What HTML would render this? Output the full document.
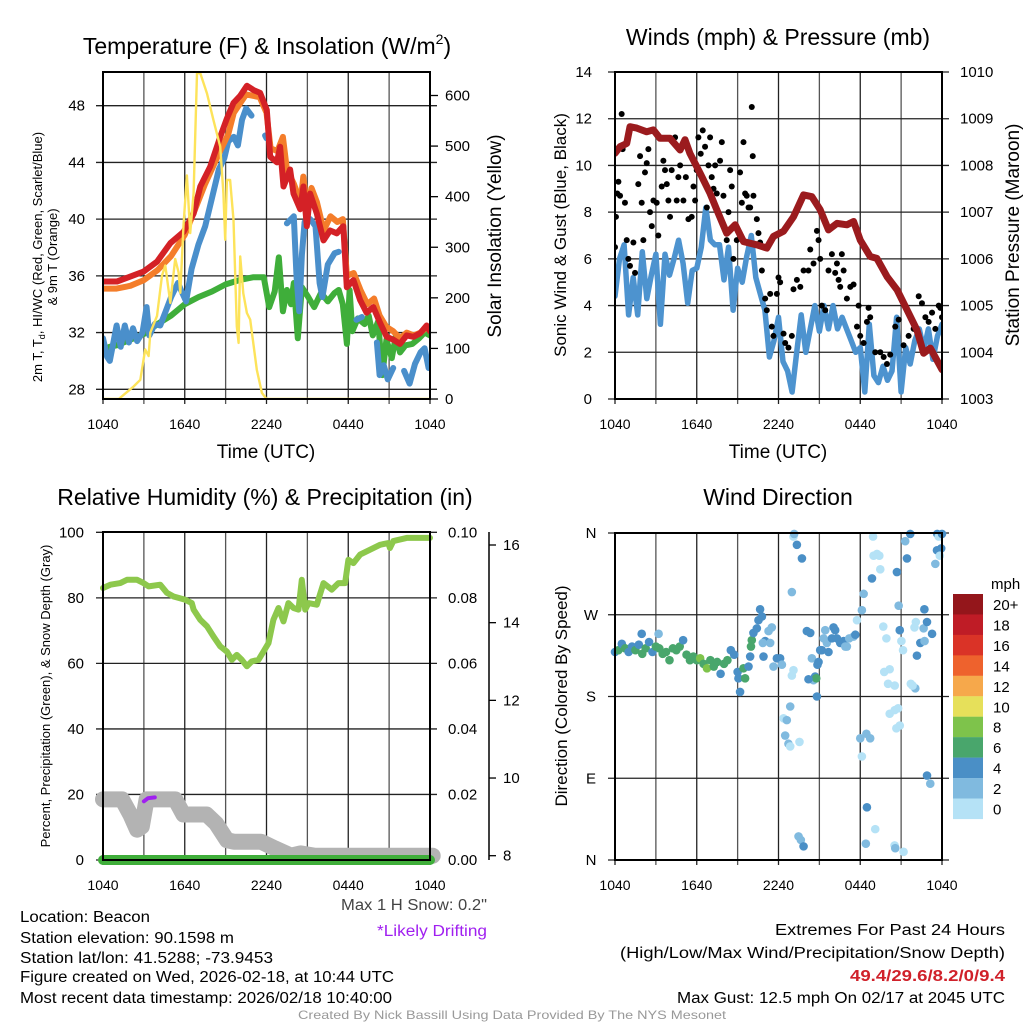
<!DOCTYPE html>
<html><head><meta charset="utf-8">
<style>
html,body{margin:0;padding:0;background:#fff;}
svg{display:block;font-family:"Liberation Sans",Arial,sans-serif;}
</style></head>
<body>
<svg id="c" width="1024" height="1024" viewBox="0 0 1024 1024" xmlns="http://www.w3.org/2000/svg">
<defs>
<clipPath id="cp1"><rect x="103" y="72" width="327" height="327"/></clipPath>
<clipPath id="cp2"><rect x="615" y="72" width="327" height="327"/></clipPath>
</defs>
<rect width="1024" height="1024" fill="#fff"/>
<g id="g1"></g>
<g id="g2"></g>
<g id="g3"></g>
<g id="g4"></g>

<text x="267" y="54" font-size="23" text-anchor="middle">Temperature (F) &amp; Insolation (W/m<tspan font-size="14" dy="-10">2</tspan><tspan dy="10">)</tspan></text>
<text x="778" y="45" font-size="23" text-anchor="middle">Winds (mph) &amp; Pressure (mb)</text>
<text x="265" y="505" font-size="23" text-anchor="middle">Relative Humidity (%) &amp; Precipitation (in)</text>
<text x="778" y="505" font-size="23" text-anchor="middle">Wind Direction</text>

<text x="266" y="458" font-size="19" text-anchor="middle">Time (UTC)</text>
<text x="778" y="458" font-size="19" text-anchor="middle">Time (UTC)</text>

<text transform="translate(42,257) rotate(-90)" font-size="13" text-anchor="middle">2m T, T<tspan font-size="9" dy="3">d</tspan><tspan dy="-3">, HI/WC (Red, Green, Scarlet/Blue)</tspan></text>
<text transform="translate(57,257) rotate(-90)" font-size="13" text-anchor="middle">&amp; 9m T (Orange)</text>
<text transform="translate(501,236) rotate(-90)" font-size="19" text-anchor="middle">Solar Insolation (Yellow)</text>
<text transform="translate(566,235) rotate(-90)" font-size="17" text-anchor="middle">Sonic Wind &amp; Gust (Blue, Black)</text>
<text transform="translate(1019,235) rotate(-90)" font-size="19" text-anchor="middle">Station Pressure (Maroon)</text>
<text transform="translate(50,696) rotate(-90)" font-size="13" text-anchor="middle">Percent, Precipitation (Green), &amp; Snow Depth (Gray)</text>
<text transform="translate(567,696) rotate(-90)" font-size="17" text-anchor="middle">Direction (Colored By Speed)</text>

<g font-size="15.5">
<text x="20" y="922" textLength="130" lengthAdjust="spacingAndGlyphs">Location: Beacon</text>
<text x="20" y="943" textLength="214" lengthAdjust="spacingAndGlyphs">Station elevation: 90.1598 m</text>
<text x="20" y="963" textLength="253" lengthAdjust="spacingAndGlyphs">Station lat/lon: 41.5288; -73.9453</text>
<text x="20" y="982" textLength="374" lengthAdjust="spacingAndGlyphs">Figure created on Wed, 2026-02-18, at 10:44 UTC</text>
<text x="20" y="1003" textLength="372" lengthAdjust="spacingAndGlyphs">Most recent data timestamp: 2026/02/18 10:40:00</text>
</g>
<text x="487" y="910" font-size="15.5" fill="#444" text-anchor="end" textLength="146" lengthAdjust="spacingAndGlyphs">Max 1 H Snow: 0.2"</text>
<text x="487" y="936" font-size="15.5" fill="#a020f0" text-anchor="end" textLength="110" lengthAdjust="spacingAndGlyphs">*Likely Drifting</text>
<text x="1005" y="935" font-size="15.5" text-anchor="end" textLength="230" lengthAdjust="spacingAndGlyphs">Extremes For Past 24 Hours</text>
<text x="1005" y="958" font-size="15.5" text-anchor="end" textLength="385" lengthAdjust="spacingAndGlyphs">(High/Low/Max Wind/Precipitation/Snow Depth)</text>
<text x="1005" y="981" font-size="15.5" font-weight="bold" fill="#d0212a" text-anchor="end" textLength="155" lengthAdjust="spacingAndGlyphs">49.4/29.6/8.2/0/9.4</text>
<text x="1005" y="1003" font-size="15.5" text-anchor="end" textLength="328" lengthAdjust="spacingAndGlyphs">Max Gust: 12.5 mph On 02/17 at 2045 UTC</text>
<text x="512" y="1019" font-size="12" fill="#999" text-anchor="middle" textLength="428" lengthAdjust="spacingAndGlyphs">Created By Nick Bassill Using Data Provided By The NYS Mesonet</text>

<g id="legend">
<text x="991" y="589" font-size="15">mph</text>
</g>
</svg>
<script>
// ---------- DATA ----------
const xTickLabels = ["1040","1640","2240","0440","1040"];
const redT   = [0,1.03,2,2.98,3.96,4.94,5.91,6.65,7.14,7.87,8.6,9.09,9.58,10.07,10.56,11.05,11.53,12.02,12.27,12.76,13,13.25,13.73,13.98,14.47,14.71,14.96,15.2,15.69,16.18,16.67,17.16,17.64,17.89,18.38,18.87,19.35,19.84,20.33,20.82,21.31,21.8,22.29,22.78,23.27,23.75,24];
const redV   = [35.6,35.6,35.95,36.3,37.0,38.3,39.1,40.4,42.3,43.7,45.8,47.1,48.2,48.7,49.4,49.1,48.9,47.7,44.4,44.0,45.1,42.3,43.5,41.8,40.7,42.3,39.5,41.8,40.4,38.5,39.2,39.0,39.5,35.2,35.7,34.3,33.4,33.8,32.7,31.7,31.5,31.2,31.8,31.7,31.95,32.5,32.1];
const orangeT = [0,1,2,3,4,5,6,6.6,7.5,8.5,9.2,9.6,10.5,11.5,12,12.3,12.8,13.2,13.5,14,14.5,14.7,15,15.3,15.7,16.2,16.7,17.2,17.6,17.9,18.4,18.9,19.4,19.9,20.3,20.8,21.3,21.8,22.3,22.8,23.3,23.8,24];
const orangeV = [35.1,35.1,35.3,35.7,36.4,37.4,38.9,40.3,42.5,44.6,46.0,47.5,48.8,48.6,47.5,45.0,44.8,45.8,43.5,42.5,41.2,43.0,40.5,42.2,41.2,39.2,40.2,39.8,40.0,36.0,36.2,35.0,34.0,34.4,33.2,32.4,32.1,31.6,32.0,31.8,32.0,32.4,32.2];
const blueT = [0,0.3,0.5,0.8,1.0,1.3,1.6,1.9,2.2,2.5,2.9,3.2,3.4,3.8,4.2,4.6,5.0,5.5,6.1,6.5,7.0,7.5,8.0,8.5,8.9,9.2,9.6,9.9,10.2,10.5,10.9,null,11.9,12.0,null,13.5,14.0,14.2,14.4,14.6,14.8,15.2,15.6,15.9,16.1,16.5,17.0,17.3,null,18.6,19.0,null,20.1,20.3,20.6,20.9,21.3,null,22.1,22.5,22.9,23.3,23.6,23.9,24];
const blueV = [31.6,30.3,30.0,31.5,32.5,31.0,32.5,31.3,32.3,31.4,32.0,33.8,31.8,32.6,32.5,33.5,34.5,35.5,34.2,36.5,38.2,39.5,41.5,43.5,44.3,45.5,45.8,45.2,47.0,47.8,47.3,null,45.9,45.7,null,39.7,40.2,36.0,33.5,37.5,39.8,40.0,39.5,35.5,34.5,36.8,37.6,37.7,null,32.9,33.1,null,31.3,29.0,29.7,28.7,29.5,null,29.3,28.4,29.8,30.6,30.9,29.5,29.6];
const greenT = [0,0.5,1,2,3,4,5,6,7,8,9,10,11,11.8,12.2,12.6,12.9,13.2,13.5,13.8,14.0,14.3,14.6,15.0,15.5,16,16.5,17,17.3,17.6,17.9,18.1,18.3,18.7,19.2,19.5,19.8,20.2,20.5,20.8,21.2,21.5,21.8,22.2,22.7,23.2,23.6,24];
const greenV = [30.8,31.0,31.1,31.5,31.9,32.6,33.2,34.0,34.5,34.9,35.4,35.7,35.9,35.9,33.8,34.9,37.3,33.5,35.0,34.0,35.5,31.6,35.2,34.6,33.8,34.8,34.2,34.8,35.0,34.0,31.2,35.0,32.1,33.0,32.6,33.2,31.8,32.8,29.0,31.5,30.2,31.8,30.6,31.1,31.2,31.6,32.0,31.8];
const solarT = [0,1.15,2.25,2.74,3.1,3.35,3.47,3.96,4.33,4.57,4.94,5.3,5.55,5.67,5.91,6.16,6.4,6.65,6.9,7.14,7.63,8.11,8.6,8.84,8.97,9.09,9.33,9.58,9.82,9.95,10.07,10.3,10.56,10.8,11.29,11.66,12.0,24];
const solarV = [0,0,25,38,98,85,131,164,244,264,190,277,250,210,343,442,328,407,644,644,604,551,499,407,315,433,433,354,144,111,282,209,170,157,58,12,0,0];
const pressT = [0,0.37,0.86,1.1,1.6,2.33,2.82,3.3,4.04,4.78,5.14,5.5,6.25,6.98,7.47,8.2,8.82,9.43,10.4,11.14,11.63,12.37,13.1,13.84,14.45,15.06,15.67,16.29,17.02,17.51,18.0,18.73,19.22,19.96,20.7,21.43,22.16,22.65,23.14,24];
const pressV = [1008.26,1008.4,1008.47,1008.83,1008.8,1008.72,1008.76,1008.58,1008.58,1008.33,1008.55,1008.26,1007.83,1007.4,1007.05,1006.55,1006.73,1006.37,1006.3,1006.23,1006.48,1006.59,1006.9,1007.37,1007.33,1007.05,1006.62,1006.76,1006.73,1006.8,1006.4,1006.05,1006.01,1005.62,1005.34,1004.91,1004.48,1003.98,1004.09,1003.63];
const windV = [4.4,6.0,6.6,3.6,5.2,3.6,6.3,4.3,5.3,6.2,3.2,6.2,5.3,6.0,6.8,5.8,4.1,5.5,5.6,6.5,8.2,6.8,6.6,6.6,5.1,6.5,3.8,5.6,5.0,6.1,7.0,5.2,4.5,3.8,1.8,2.5,3.5,1.6,1.2,0.3,2.0,3.6,2.0,3.0,4.0,2.9,4.0,3.0,4.0,3.0,3.5,3.0,2.5,2.0,2.2,0.3,3.2,1.0,0.7,1.4,0.8,1.2,3.5,0.3,2.2,1.5,2.5,3.0,2.1,3.0,1.7,2.7,3.2];
const gustT = [0,0.07,0.17,0.25,0.37,0.49,0.56,0.73,0.86,0.98,1.1,1.35,1.47,1.71,1.84,1.96,2.08,2.2,2.33,2.45,2.57,2.7,2.82,3.06,3.18,3.43,3.55,3.67,3.8,3.92,4.04,4.16,4.41,4.53,4.65,4.78,5.02,5.2,5.39,5.63,5.76,5.88,6.0,6.12,6.29,6.44,6.61,6.74,6.86,6.98,7.1,7.23,7.35,7.47,7.71,7.84,7.96,8.2,8.33,8.45,8.57,8.69,8.94,9.18,9.31,9.43,9.55,9.67,9.8,9.92,10.04,10.11,10.16,10.41,10.53,10.65,10.78,11.02,11.14,11.39,11.51,11.63,11.88,12.0,12.12,12.37,12.49,12.73,12.98,13.1,13.35,13.6,13.84,14.2,14.33,14.57,14.82,14.94,15.06,15.18,15.43,15.67,15.92,16.16,16.29,16.41,16.53,16.65,16.78,17.02,17.27,17.51,17.76,17.88,18.0,18.25,18.49,18.61,18.73,19.1,19.47,19.72,19.96,20.2,20.57,20.82,21.18,21.55,21.92,22.29,22.53,22.78,23.02,23.27,23.51,23.76,23.88,24.0];
const gustV = [6.5,7.8,8.8,9.3,8.7,12.2,10.7,8.4,6.8,6.0,5.7,6.7,5.4,9.2,10.4,8.4,6.8,9.7,10.1,10.7,8.0,7.4,8.5,8.4,7.0,9.1,10.2,9.8,9.2,8.5,7.8,9.8,11.2,8.5,9.5,10.0,8.5,9.5,7.7,7.8,9.1,8.5,9.8,11.2,10.5,11.5,10.8,8.2,10.0,11.2,9.5,9.0,10.0,8.8,10.2,11.0,8.7,6.8,8.0,9.8,9.1,6.0,6.8,9.7,8.4,11.0,8.8,8.7,8.2,8.2,12.5,10.4,8.7,7.7,7.1,6.7,5.5,4.3,3.8,4.5,3.1,2.7,4.5,5.2,5.0,2.8,2.4,2.2,2.7,4.7,5.1,4.8,5.5,5.5,6.4,5.8,7.2,6.8,6.0,4.0,3.8,5.5,6.2,5.4,5.8,5.1,4.8,6.2,5.5,4.3,4.8,4.9,3.1,4.0,2.7,2.4,3.3,3.9,3.5,2.0,2.0,1.8,1.5,1.9,3.1,3.4,2.3,2.7,3.0,4.4,4.1,3.5,3.3,3.7,3.0,4.0,3.9,3.5];
const rhT = [0,0.54,1.27,1.76,2.5,2.98,3.35,4.2,4.7,5.18,6.04,6.52,6.65,7.14,7.63,8.11,8.6,9.09,9.46,9.82,10.19,10.56,10.92,11.41,11.78,12.15,12.51,12.88,13.25,13.61,13.98,14.35,14.59,14.84,15.08,15.69,16.18,16.79,17.28,17.77,18.01,18.38,18.87,19.6,20.33,20.94,21.06,21.31,22.29,23.75,24];
const rhV = [83,84,84.5,85.5,85.5,84.5,83.5,84,81.5,80.4,79.4,78.4,76.4,73.3,71.3,68.2,65.2,63.6,61.1,62.6,61.1,59.1,60.6,61.1,63.6,66.2,73.3,76.9,72.8,78.4,76.9,76.4,85.5,76.4,78.4,77.9,84.5,82.5,84.5,84.5,91.6,90.6,93.2,94.7,96.2,96.7,95.2,97.3,98.3,98.3,98.3];
const snowT = [0,1.4,2.0,2.5,2.85,3.2,5.3,5.9,6.4,7.6,8.3,9.1,9.6,11.6,12.6,13.8,14.5,15.5,24.2];
const snowV = [9.45,9.45,9.06,8.67,8.75,9.45,9.45,9.06,9.06,9.06,8.83,8.4,8.36,8.36,8.19,8.0,8.06,8.0,8.0];
const precipT = [0,24];
const precipV = [0,0];
const driftT = [3.0,3.3,3.8];
const driftV = [9.4,9.48,9.5];
const dirT = [0,0.25,0.5,0.75,1,1.25,1.5,1.75,2,2.25,2.5,2.75,3,3.25,3.5,3.75,4,4.25,4.5,4.75,5,5.25,5.5,5.75,6,6.25,6.5,6.75,7,7.25,7.5,7.75,8,8.25,8.5,8.75,1.96,3.2,
9.0,9.06,9.18,9.43,9.55,9.8,9.92,10.04,9.98,10.16,10.41,10.53,10.65,10.78,11.02,11.27,11.39,11.51,10.85,10.9,11.63,11.88,12.12,12.25,13.1,12.98,13.1,13.35,13.15,13.72,12.98,12.86,12.37,12.61,12.49,12.73,12.86,13.54,13.47,13.64,
13.84,14.08,14.33,14.45,14.57,14.69,14.77,14.2,14.82,14.86,14.94,15.06,15.18,15.31,15.43,15.55,15.67,15.92,16.04,16.16,16.29,16.53,16.78,16.9,17.02,17.19,17.51,17.64,17.76,18.12,18.25,18.86,18.98,19.23,18.94,19.4,19.47,19.69,19.92,20.04,19.76,20.16,20.53,20.16,20.53,20.78,20.65,20.9,18.0,18.12,18.49,18.45,18.73,19.1,18.41,20.52,20.57,21.18,21.3,21.43,21.67,20.69,20.82,20.9,21.02,21.14,21.71,22.04,21.84,22.16,22.41,22.65,22.72,21.98,22.08,22.69,22.9,23.14,23.51,23.65,23.94,23.63,23.76,23.84,24.0,22.71,22.9,23.27];
const dirV = [229,231,238,233,229,235,231,237,227,233,240,229,235,233,227,229,220,233,231,235,242,226,220,224,220,222,216,211,220,213,218,205,216,220,231,226,249,249,
207,200,185,211,200,213,224,242,235,250,255,264,276,268,241,252,239,256,239,224,213,222,222,215,209,203,356,347,359,332,295,169,156,154,137,128,125,130,26,22,15,
252,250,222,198,202,200,199,180,215,218,231,231,244,253,239,229,244,256,253,244,239,241,235,235,244,246,248,264,275,293,310,335,337,356,335,320,257,244,194,207,210,192,161,165,167,145,148,134,114,58,139,134,34,18,16,13,9,351,332,359,317,280,253,241,231,194,189,192,225,239,255,241,256,262,276,93,84,326,359,343,341,356,335,359,276,262,249,11,4,13];
const dirS = [5,7,5,7,5,5,7,5,7,7,5,5,7,7,7,7,7,7,7,7,5,7,7,7,7,9,7,9,7,7,7,5,7,7,5,5,5,3,
5,5,5,7,7,5,5,7,7,5,5,5,5,5,5,3,3,3,3,5,3,5,5,3,1,1,1,5,3,5,3,3,1,3,3,3,1,1,3,3,
5,5,5,3,3,5,7,5,5,5,5,5,5,3,3,3,5,5,5,5,5,5,5,3,3,3,3,5,1,3,3,5,1,1,1,1,1,1,1,1,1,1,1,1,1,1,1,1,3,1,5,3,3,1,3,1,3,1,3,5,5,5,3,5,1,1,1,3,1,5,5,3,3,1,1,1,5,3,3,5,5,5,1,1,5,5,5,5];
const legendLabels = ["20+","18","16","14","12","10","8","6","4","2","0"];
const legendColors = ["#94161b","#bf1c26","#da3327","#ee622d","#f6a84b","#e6e05a","#7ec34b","#49a66c","#4a8fc6","#80badf","#b5e2f6"];
const tempTicks = [28,32,36,40,44,48];
const solarTicks = [0,100,200,300,400,500,600];
const windTicks = [0,2,4,6,8,10,12,14];
const pressTicks = [1003,1004,1005,1006,1007,1008,1009,1010];
const rhTicks = [0,20,40,60,80,100];
const precipTicks = ["0.00","0.02","0.04","0.06","0.08","0.10"];
const snowTicks = [8,10,12,14,16];
const dirTicks = ["N","E","S","W","N"];

// ---------- HELPERS ----------
const NS="http://www.w3.org/2000/svg";
function mk(parent,tag,attrs){const e=document.createElementNS(NS,tag);for(const k in attrs)e.setAttribute(k,attrs[k]);parent.appendChild(e);return e;}
function lin(d0,d1,r0,r1){return v=>r0+(v-d0)*(r1-r0)/(d1-d0);}
function pathFrom(T,V,xs,ys){let d="",pen=false;for(let i=0;i<T.length;i++){if(T[i]===null||V[i]===null){pen=false;continue;}d+=(pen?"L":"M")+xs(T[i]).toFixed(1)+","+ys(V[i]).toFixed(1);pen=true;}return d;}
function frame(g,L,R,Tp,B){
  const xs=lin(0,24,L,R);
  for(let h=0;h<=24;h+=3){
    const gl=mk(g,"line",{x1:xs(h),x2:xs(h),y1:Tp,y2:B+5,stroke:(h%6==0)?"#222":"#555","stroke-width":1.3});
    
    
  }
  xTickLabels.forEach((s,i)=>{
    const t=mk(g,"text",{x:xs(i*6),y:B+30,"font-size":14,"text-anchor":"middle"});t.textContent=s;
    
    
  });
  return xs;
}
function hgrid(g,L,R,y){const l=mk(g,"line",{x1:L-7,x2:R+7,y1:y,y2:y,stroke:"#222","stroke-width":1.3});
  
  }
function lbl(g,x,y,s,anchor,size){const t=mk(g,"text",{x:x,y:y+5,"font-size":size||14,"text-anchor":anchor});t.textContent=s;
  
  return t;}
function border(g,L,R,Tp,B){const r=mk(g,"rect",{x:L,y:Tp,width:R-L,height:B-Tp,fill:"none",stroke:"#000","stroke-width":2});
  
  }
function line(g,T,V,xs,ys,color,w,name){const p=mk(g,"path",{d:pathFrom(T,V,xs,ys),fill:"none",stroke:color,"stroke-width":w,"stroke-linejoin":"round","stroke-linecap":"round"});
  
  return p;}

// ---------- PANEL 1 ----------
(function(){
  const g=document.getElementById("g1");const L=103,R=430,Tp=72,B=399;
  const xs=frame(g,L,R,Tp,B);
  const ys=lin(28,48,389.3,105.7);const ysS=lin(0,600,399,95.5);
  tempTicks.forEach(v=>{hgrid(g,L,R,ys(v));lbl(g,85,ys(v),v,"end",15);});
  solarTicks.forEach(v=>{const tk=mk(g,"line",{x1:R,x2:R+8,y1:ysS(v),y2:ysS(v),stroke:"#000","stroke-width":1.3});
    
    lbl(g,445,ysS(v),v,"start",15);});
  const cg=mk(g,"g",{"clip-path":"url(#cp1)"});
  
  
  line(cg,greenT,greenV,xs,ys,"#3fae3a",6,"dewpoint-line");
  line(cg,blueT,blueV,xs,ys,"#4a8fcb",6,"windchill-line");
  line(cg,orangeT,orangeV,xs,ys,"#f47d2a",6,"9m-temperature-line");
  line(cg,redT,redV,xs,ys,"#d42126",6,"2m-temperature-line");
  line(cg,solarT,solarV,xs,ysS,"#fde35a",2.4,"solar-insolation-line");
  border(g,L,R,Tp,B);
})();
// ---------- PANEL 2 ----------
(function(){
  const g=document.getElementById("g2");const L=615,R=942,Tp=72,B=399;
  const xs=frame(g,L,R,Tp,B);
  const ys=lin(0,14,399,72);const ysP=lin(1003,1010,399,72);
  windTicks.forEach(v=>{hgrid(g,L,R,ys(v));lbl(g,592,ys(v),v,"end",15);});
  pressTicks.forEach(v=>{lbl(g,960,ysP(v),v,"start",15);});
  const cg=mk(g,"g",{"clip-path":"url(#cp2)"});
  
  
  const wT=windV.map((v,i)=>i/3);
  line(cg,wT,windV,xs,ys,"#4d93cf",5.5,"sonic-wind-line");
  gustT.forEach((t,i)=>{const c=mk(cg,"circle",{cx:xs(t),cy:ys(gustV[i]),r:3,fill:"#000"});
    
    });
  line(cg,pressT,pressV,xs,ysP,"#9b1b1e",7,"pressure-line");
  border(g,L,R,Tp,B);
})();
// ---------- PANEL 3 ----------
(function(){
  const g=document.getElementById("g3");const L=103,R=430,Tp=532,B=860;
  const xs=frame(g,L,R,Tp,B);
  const ys=lin(0,100,860,532.3);const ysSn=lin(8,16,855.7,545);
  rhTicks.forEach((v,i)=>{hgrid(g,L,R,ys(v));lbl(g,84,ys(v),v,"end",15);lbl(g,448,ys(v),precipTicks[i],"start",15);});
  const ax=mk(g,"line",{x1:489,x2:489,y1:532,y2:860,stroke:"#000","stroke-width":1.5});
  
  snowTicks.forEach(v=>{const tk=mk(g,"line",{x1:489,x2:496,y1:ysSn(v),y2:ysSn(v),stroke:"#000","stroke-width":1.3});
    
    lbl(g,503,ysSn(v),v,"start",15);});
  line(g,snowT,snowV,xs,ysSn,"#b3b3b3",16,"snow-depth-line");
  line(g,driftT,driftV,xs,ysSn,"#a020f0",4,"drifting-line");
  line(g,precipT,precipV,xs,lin(0,0.1,860,532),"#3fae3a",10,"precipitation-line");
  line(g,rhT,rhV,xs,ys,"#8dc84c",6,"relative-humidity-line");
  border(g,L,R,Tp,B);
})();
// ---------- PANEL 4 ----------
(function(){
  const g=document.getElementById("g4");const L=615,R=942,Tp=533,B=860;
  const xs=frame(g,L,R,Tp,B);
  const ys=lin(0,360,860,533);
  dirTicks.forEach((s,i)=>{hgrid(g,L,R,ys(i*90));lbl(g,591,ys(i*90),s,"middle",15);});
  function col(s){const i=Math.min(10,Math.floor(s/2));return legendColors[10-i];}
  dirT.forEach((t,i)=>{const c=mk(g,"circle",{cx:xs(t),cy:ys(dirV[i]),r:4.3,fill:col(dirS[i])});
    
    });
  border(g,L,R,Tp,B);
  const lg=document.getElementById("legend");
  legendLabels.forEach((s,i)=>{
    const r=mk(lg,"rect",{x:953,y:594+i*20.45,width:30,height:20.6,fill:legendColors[i]});
    
    
    const t=mk(lg,"text",{x:993,y:610+i*20.45,"font-size":15});t.textContent=s;
    
    
  });
})();
</script>
</body></html>
